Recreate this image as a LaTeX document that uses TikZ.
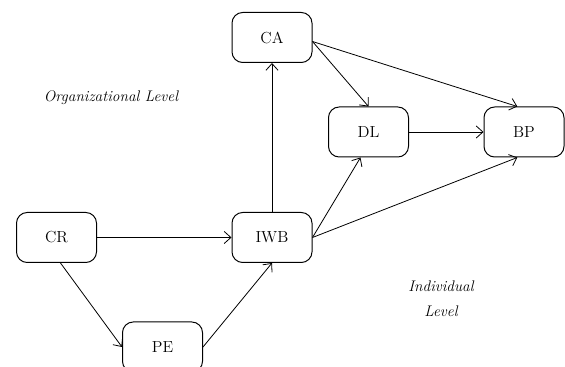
\documentclass[tikz,border=0pt]{standalone}
\usetikzlibrary{arrows.meta}

\tikzset{every picture/.style={line width=0.75pt}}
\tikzset{
  varbox/.style={draw, rounded corners=8, minimum width=60pt, minimum height=37.5pt, inner sep=0.75pt, font=\fontsize{12}{14}\selectfont},
  levellabel/.style={inner sep=0.75pt, align=center, font=\fontsize{11.5}{18.75}\selectfont\itshape},
  link/.style={-{Straight Barb[length=5pt,width=9pt]}, line width=0.6pt}
}

\begin{document}
\begin{tikzpicture}[x=0.75pt,y=0.75pt,yscale=-1,xscale=1]
\clip (0,0) rectangle (565,367);
%Rounded Rect [id:ca] 
\node [varbox] (CA) at (272,37.5) {CA};
%Rounded Rect [id:dl] 
\node [varbox] (DL) at (368.5,132) {DL};
%Rounded Rect [id:bp] 
\node [varbox] (BP) at (524,132) {BP};
%Rounded Rect [id:cr] 
\node [varbox] (CR) at (56.5,237.5) {CR};
%Rounded Rect [id:iwb] 
\node [varbox] (IWB) at (272,237.5) {IWB};
%Rounded Rect [id:pe] 
\node [varbox] (PE) at (162.5,347) {PE};

%Straight Lines [id:cr-iwb] 
\draw [link] (CR.east) -- (IWB.west);
%Straight Lines [id:cr-pe] 
\draw [link] ([xshift=3]CR.south) -- (PE.west);
%Straight Lines [id:pe-iwb] 
\draw [link] (PE.east) -- (IWB.south);
%Straight Lines [id:iwb-ca] 
\draw [link] (IWB.north) -- (CA.south);
%Straight Lines [id:iwb-dl] 
\draw [link] (IWB.east) -- ([xshift=-6]DL.south);
%Straight Lines [id:iwb-bp] 
\draw [link] (IWB.east) -- ([xshift=-5]BP.south);
%Straight Lines [id:ca-dl] 
\draw [link] ([yshift=3]CA.east) -- (DL.north);
%Straight Lines [id:ca-bp] 
\draw [link] ([yshift=3]CA.east) -- ([xshift=-5]BP.north);
%Straight Lines [id:dl-bp] 
\draw [link] (DL.east) -- (BP.west);

% Text Node
\node [levellabel] (orglevel) at (111,98) {Organizational Level};
% Text Node
\node [levellabel] (indlevel) at (441,298.5) {Individual\\Level};

\end{tikzpicture}
\end{document}
